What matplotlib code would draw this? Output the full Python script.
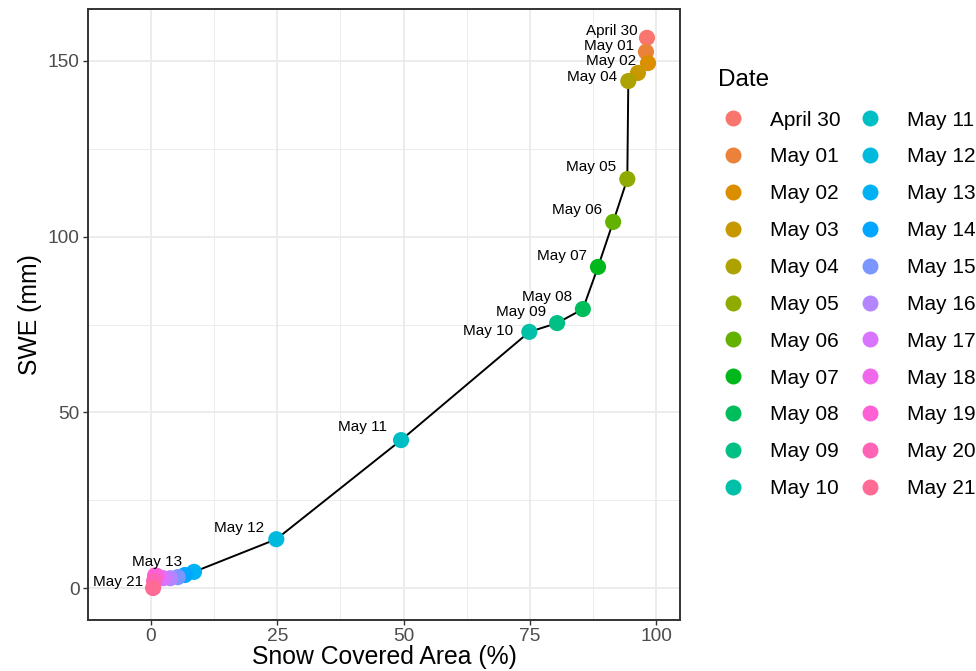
import numpy as np
import matplotlib
matplotlib.use("Agg")
import matplotlib.pyplot as plt
from matplotlib.lines import Line2D

plt.rcParams['font.family'] = ['Liberation Sans', 'DejaVu Sans']

# snow covered area (%) and SWE (mm) for each day of the melt season
dates = ['April 30', 'May 01', 'May 02', 'May 03', 'May 04', 'May 05', 'May 06',
         'May 07', 'May 08', 'May 09', 'May 10', 'May 11', 'May 12', 'May 13',
         'May 14', 'May 15', 'May 16', 'May 17', 'May 18', 'May 19', 'May 20',
         'May 21']
sca = [98.2, 98.0, 98.4, 96.4, 94.5, 94.3, 91.5, 88.5, 85.5, 80.4, 74.9, 49.5,
       24.8, 8.5, 6.7, 5.3, 3.8, 2.4, 1.2, 0.8, 0.6, 0.4]
swe = [156.6, 152.6, 149.4, 146.6, 144.3, 116.4, 104.2, 91.4, 79.4, 75.4, 72.9,
       42.1, 13.9, 4.6, 3.7, 3.1, 2.8, 2.8, 3.4, 3.6, 2.0, 0.0]

# dates that get a text label, with the label offset in pixels
label_dates = ['April 30', 'May 01', 'May 02', 'May 04', 'May 05', 'May 06',
               'May 07', 'May 08', 'May 09', 'May 10', 'May 11', 'May 12',
               'May 13', 'May 21']
label_offsets = [(-9, 7), (-12, 6), (-12, 2), (-11, 4), (-11, 12), (-11, 12),
                 (-11, 11), (-11, 12), (-11, 11), (-16, 1), (-14, 13), (-12, 11),
                 (-12, 10), (-10, 6)]


def hue_palette(n, c=100.0, l=65.0, h_start=15.0):
    # same evenly spaced HCL hues as ggplot's default discrete scale
    hues = np.linspace(h_start, h_start + 360, n + 1)[:n]
    xn, yn, zn = 0.95047, 1.0, 1.08883
    un = 4 * xn / (xn + 15 * yn + 3 * zn)
    vn = 9 * yn / (xn + 15 * yn + 3 * zn)
    out = []
    for h in hues:
        hr = np.radians(h)
        u = c * np.cos(hr)
        v = c * np.sin(hr)
        Y = ((l + 16) / 116) ** 3
        up = u / (13 * l) + un
        vp = v / (13 * l) + vn
        X = Y * 9 * up / (4 * vp)
        Z = Y * (12 - 3 * up - 20 * vp) / (4 * vp)
        rgb = np.array([3.2406 * X - 1.5372 * Y - 0.4986 * Z,
                        -0.9689 * X + 1.8758 * Y + 0.0415 * Z,
                        0.0557 * X - 0.2040 * Y + 1.0570 * Z])
        rgb = np.where(rgb <= 0.0031308, 12.92 * rgb,
                       1.055 * np.clip(rgb, 0, None) ** (1 / 2.4) - 0.055)
        out.append(tuple(np.clip(rgb, 0, 1)))
    return out


colors = hue_palette(len(dates))

fig = plt.figure(figsize=(9.76, 6.71), dpi=100)
ax = fig.add_axes([0.0902, 0.076, 0.6066, 0.9106])

ax.plot(sca, swe, color='black', lw=1.4, zorder=2)
ax.scatter(sca, swe, c=colors, s=135, edgecolors='none', zorder=3)

for name, (dx, dy) in zip(label_dates, label_offsets):
    i = dates.index(name)
    ax.annotate(name, (sca[i], swe[i]), xytext=(dx, dy), textcoords='offset pixels',
                ha='right', va='center', fontsize=11, color='black', zorder=4)

ax.set_xlim(-12.48, 104.75)
ax.set_ylim(-9.1, 164.8)
ax.set_xticks([0, 25, 50, 75, 100])
ax.set_yticks([0, 50, 100, 150])
ax.set_xticks([12.5, 37.5, 62.5, 87.5], minor=True)
ax.set_yticks([25, 75, 125], minor=True)
ax.grid(which='major', color='#EBEBEB', lw=1.3)
ax.grid(which='minor', color='#EBEBEB', lw=0.65)
ax.set_axisbelow(True)
ax.tick_params(which='major', direction='out', length=3.6, width=1.0,
               color='#333333', labelcolor='#4D4D4D', labelsize=13.8, pad=2.5)
ax.tick_params(which='minor', length=0)
for sp in ax.spines.values():
    sp.set_color('#333333')
    sp.set_linewidth(1.4)

ax.set_xlabel('Snow Covered Area (%)', fontsize=17.8, labelpad=0)
ax.set_ylabel('SWE (mm)', fontsize=17.8, labelpad=4)

# legend: title drawn separately so its gap to the keys can be set
fig.text(718 / 976, 1 - 80 / 671, 'Date', fontsize=17.5, ha='left', va='center')
handles = [Line2D([], [], marker='o', ls='none', color=c, markersize=11.5,
                  markeredgewidth=0) for c in colors]
fig.legend(handles, dates, loc='upper left', bbox_to_anchor=(0.725, 0.857),
           ncol=2, frameon=False, fontsize=15, handlelength=1.0,
           handletextpad=1.28, columnspacing=0.94, labelspacing=0.857,
           borderpad=0.2)

fig.savefig('out.png', dpi=100)
